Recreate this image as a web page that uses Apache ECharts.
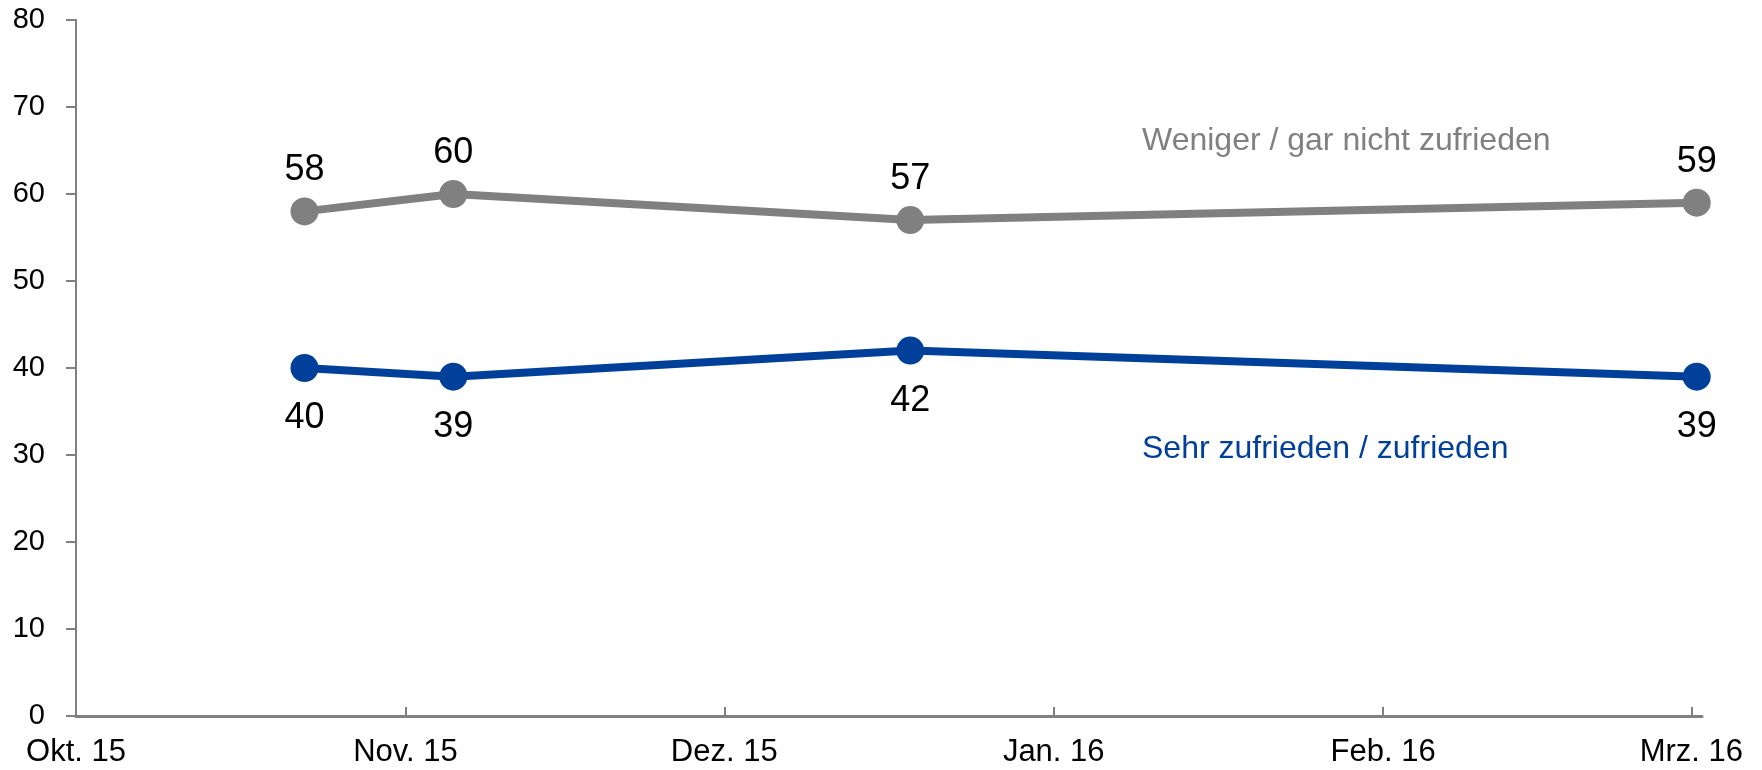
<!DOCTYPE html>
<html>
<head>
<meta charset="utf-8">
<script src="https://cdn.jsdelivr.net/npm/echarts@6/dist/echarts.min.js"></script>
<style>
html, body { margin: 0; padding: 0; background: #fff; }
#chart { width: 1762px; height: 770px; }
</style>
</head>
<body>
<div id="chart"></div>
<script>
// Survey dates (each point sits in the middle of its day, as on an Excel date axis)
var dates = ['2015-10-22', '2015-11-05', '2015-12-18', '2016-03-01'];
var weniger = [58, 60, 57, 59];          // Weniger / gar nicht zufrieden
var zufrieden = [40, 39, 42, 39];        // Sehr zufrieden / zufrieden
var monthNames = ['Jan.', 'Feb.', 'Mrz.', 'Apr.', 'Mai', 'Jun.', 'Jul.', 'Aug.', 'Sep.', 'Okt.', 'Nov.', 'Dez.'];
var xTickDates = ['2015-10-01', '2015-11-01', '2015-12-01', '2016-01-01', '2016-02-01', '2016-03-01'];
var yTicks = [0, 10, 20, 30, 40, 50, 60, 70, 80];
var axisStart = '2015-10-01';
var axisEnd = '2016-03-02';
var seriesNames = ['Weniger / gar nicht zufrieden', 'Sehr zufrieden / zufrieden'];

var GRAY = '#808080';
var BLUE = '#00409A';
var FONT = '"Liberation Sans", Arial, sans-serif';
var DAY = 86400000;
var t0 = Date.parse(axisStart);             // UTC midnight
function dayNum(d) { return Math.round((Date.parse(d) - t0) / DAY); }
function pts(vals) {
  // each point is centred within its day slot
  return dates.map(function (d, i) { return [dayNum(d) + 0.5, vals[i]]; });
}
var xTickValues = xTickDates.map(dayNum);

var chart = echarts.init(document.getElementById('chart'), null, { renderer: 'canvas' });
chart.setOption({
  animation: false,
  backgroundColor: '#ffffff',
  grid: { left: 76, top: 20, right: 60, bottom: 54, containLabel: false, outerBoundsMode: 'none' },
  xAxis: {
    type: 'value',
    min: 0,
    max: dayNum(axisEnd),
    splitLine: { show: false },
    axisLine: { show: true, lineStyle: { color: GRAY, width: 3 } },
    axisTick: { show: true, inside: true, length: 9, customValues: xTickValues, lineStyle: { color: GRAY, width: 2 } },
    axisLabel: {
      customValues: xTickValues,
      color: '#000',
      fontFamily: FONT,
      fontSize: 31,
      margin: 21,
      hideOverlap: false,
      formatter: function (val) {
        var d = new Date(t0 + val * DAY);
        return monthNames[d.getUTCMonth()] + ' ' + String(d.getUTCFullYear()).slice(2);
      }
    }
  },
  yAxis: {
    type: 'value',
    min: yTicks[0],
    max: yTicks[yTicks.length - 1],
    interval: 10,
    splitLine: { show: false },
    axisLine: { show: true, lineStyle: { color: GRAY, width: 2 } },
    axisTick: { show: true, inside: false, length: 10, lineStyle: { color: GRAY, width: 2 } },
    axisLabel: { color: '#000', fontFamily: FONT, fontSize: 29, margin: 31 }
  },
  series: [
    {
      name: seriesNames[0],
      type: 'line',
      data: pts(weniger),
      symbol: 'circle',
      symbolSize: 28,
      lineStyle: { color: GRAY, width: 8 },
      itemStyle: { color: GRAY },
      label: { show: true, position: 'top', distance: 9, color: '#000', fontFamily: FONT, fontSize: 36,
        formatter: function (p) { return p.value[1]; } }
    },
    {
      name: seriesNames[1],
      type: 'line',
      data: pts(zufrieden),
      symbol: 'circle',
      symbolSize: 28,
      lineStyle: { color: BLUE, width: 8 },
      itemStyle: { color: BLUE },
      label: { show: true, position: 'bottom', distance: 18, color: '#000', fontFamily: FONT, fontSize: 36,
        formatter: function (p) { return p.value[1]; } }
    }
  ],
  graphic: [
    { type: 'text', left: 1142, top: 125, style: { text: seriesNames[0], fill: GRAY, font: '32px ' + FONT } },
    { type: 'text', left: 1142, top: 433, style: { text: seriesNames[1], fill: BLUE, font: '32px ' + FONT } }
  ]
});
</script>
</body>
</html>
